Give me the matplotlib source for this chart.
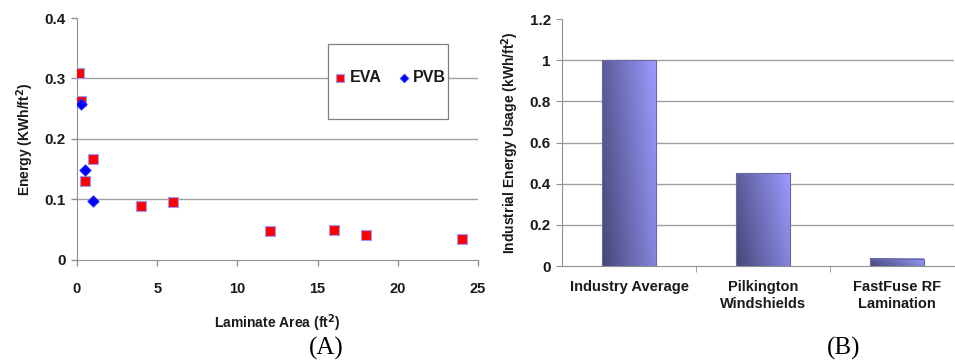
import numpy as np
import matplotlib
matplotlib.use('Agg')
import matplotlib.pyplot as plt
from matplotlib.patches import Rectangle

plt.rcParams['font.family'] = ['Liberation Sans', 'DejaVu Sans']

# (A) energy per unit area vs laminate area
eva_area = [0.1, 0.25, 0.5, 1, 4, 6, 12, 16, 18, 24]
eva_energy = [0.309, 0.262, 0.131, 0.167, 0.089, 0.095, 0.048, 0.049, 0.041, 0.035]
pvb_area = [0.25, 0.5, 1]
pvb_energy = [0.258, 0.149, 0.097]

# (B) industrial energy usage
categories = ['Industry Average', 'Pilkington\nWindshields', 'FastFuse RF\nLamination']
usage = [1.0, 0.45, 0.035]

grid_c = '#a0a0a0'
spine_c = '#909090'
text_c = '#1a1a1a'

fig = plt.figure(figsize=(9.55, 3.6), dpi=100)

# ---- left panel ----
ax1 = fig.add_axes([0.0806, 0.278, 0.42, 0.672])
ax1.scatter(eva_area, eva_energy, marker='s', s=50, c='#ff0000',
            edgecolors='#9a9aff', linewidths=0.8, zorder=3, label='EVA')
ax1.scatter(pvb_area, pvb_energy, marker='D', s=34, c='#0000ff',
            edgecolors='#3333ff', linewidths=0.6, zorder=4, label='PVB')
ax1.set_xlim(0, 25)
ax1.set_ylim(0, 0.4)
ax1.set_xticks([0, 5, 10, 15, 20, 25])
ax1.set_yticks([0, 0.1, 0.2, 0.3, 0.4])
ax1.set_yticklabels(['0', '0.1', '0.2', '0.3', '0.4'])
for y in [0.1, 0.2, 0.3]:
    ax1.axhline(y, color=grid_c, lw=1.0, zorder=1)
for s in ['top', 'right']:
    ax1.spines[s].set_visible(False)
for s in ['left', 'bottom']:
    ax1.spines[s].set_color(spine_c)
ax1.tick_params(colors=spine_c, labelcolor=text_c, length=4, width=1)
ax1.tick_params(axis='x', labelsize=10.5, pad=12)
ax1.tick_params(axis='y', labelsize=11, pad=4)
for lab in ax1.get_xticklabels() + ax1.get_yticklabels():
    lab.set_fontweight('bold')
ax1.set_xlabel('Laminate Area (ft$^\\mathbf{2}$)', fontsize=10, fontweight='bold',
               color=text_c, labelpad=12)
ax1.set_ylabel('Energy (KWh/ft$^\\mathbf{2}$)', fontsize=10, fontweight='bold',
               color=text_c, labelpad=6)

# legend box
ax1.add_patch(Rectangle((0.626, 0.583), 0.299, 0.31, transform=ax1.transAxes,
                        facecolor='white', edgecolor='#808080', lw=0.9, zorder=5))
leg = ax1.legend(loc='center', bbox_to_anchor=(0.778, 0.752), ncol=2,
                 frameon=False, handletextpad=0.1, columnspacing=0.9,
                 handlelength=1.0, markerscale=0.75,
                 prop={'weight': 'bold', 'size': 11.5})
leg.set_zorder(6)
for t in leg.get_texts():
    t.set_color(text_c)

# ---- right panel ----
ax2 = fig.add_axes([0.5885, 0.261, 0.41, 0.686])
x = np.arange(len(categories))
bw = 0.4
for y in [0.2, 0.4, 0.6, 0.8, 1.0]:
    ax2.axhline(y, color=grid_c, lw=1.0, zorder=1)

# diagonal gradient: dark lower-left to light upper-right
gu, gv = np.meshgrid(np.linspace(0, 1, 60), np.linspace(0, 1, 60))
t = np.clip((gu + 0.35 * gv) / 1.35, 0, 1)
dark = np.array([70, 70, 120]) / 255
light = np.array([155, 155, 255]) / 255
grad = dark + (light - dark) * t[..., None]
for xi, v in zip(x, usage):
    ax2.imshow(grad, extent=(xi - bw / 2, xi + bw / 2, 0, v), origin='lower',
               aspect='auto', zorder=2, interpolation='bilinear')
    ax2.add_patch(Rectangle((xi - bw / 2, 0), bw, v, facecolor='none',
                            edgecolor='#6a6aa0', lw=0.8, zorder=3))
ax2.set_xlim(-0.5, 2.42)
ax2.set_ylim(0, 1.2)

ax2.set_xticks(x)
ax2.set_xticklabels(categories, fontsize=10.5, fontweight='bold', color=text_c,
                    linespacing=1.25)
ax2.set_xticks([0.5, 1.5], minor=True)
ax2.tick_params(axis='x', which='major', length=0, pad=10)
ax2.tick_params(axis='x', which='minor', length=4, color=spine_c)
ax2.set_yticks([0, 0.2, 0.4, 0.6, 0.8, 1.0, 1.2])
ax2.set_yticklabels(['0', '0.2', '0.4', '0.6', '0.8', '1', '1.2'])
ax2.tick_params(axis='y', colors=spine_c, labelcolor=text_c, labelsize=11,
                length=4, pad=4)
for lab in ax2.get_yticklabels():
    lab.set_fontweight('bold')
for s in ['top', 'right']:
    ax2.spines[s].set_visible(False)
for s in ['left', 'bottom']:
    ax2.spines[s].set_color(spine_c)
ax2.set_ylabel('Industrial Energy Usage (kWh/ft$^\\mathbf{2}$)', fontsize=10,
               fontweight='bold', color=text_c, labelpad=6)

# panel captions
fig.text(326 / 955, 1 - 348 / 360, '(A)', ha='center', va='center',
         fontsize=18, family='Liberation Serif')
fig.text(844 / 955, 1 - 348 / 360, '(B)', ha='center', va='center',
         fontsize=18, family='Liberation Serif')

fig.savefig('out.png', dpi=100)
